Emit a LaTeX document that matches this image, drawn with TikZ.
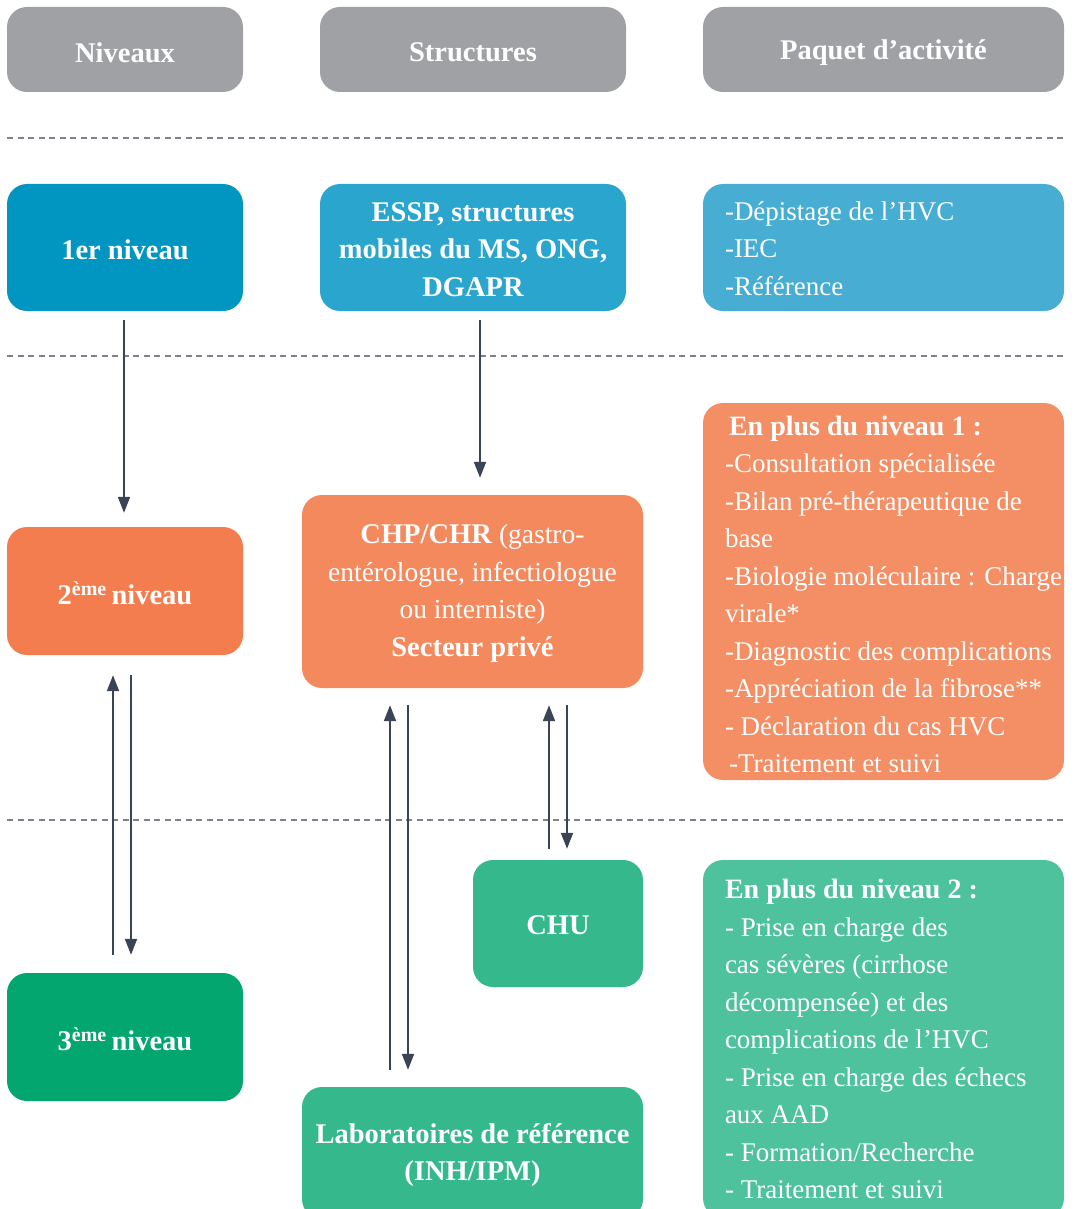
\documentclass[tikz,border=0pt]{standalone}
\usepackage{fontspec}
\setmainfont{Liberation Serif}
\usetikzlibrary{arrows.meta}
\definecolor{hdrgray}{HTML}{A0A1A5}
\definecolor{blueA}{HTML}{0096C1}
\definecolor{blueB}{HTML}{2AA5CD}
\definecolor{blueC}{HTML}{48ADD3}
\definecolor{orangeA}{HTML}{F37D4F}
\definecolor{orangeB}{HTML}{F4895D}
\definecolor{orangeC}{HTML}{F48E64}
\definecolor{greenA}{HTML}{02A66E}
\definecolor{greenB}{HTML}{35B98C}
\definecolor{greenC}{HTML}{4EC29C}
\definecolor{arrowc}{HTML}{3B4456}
\definecolor{dashc}{HTML}{7C8290}
\newcommand\diagfont{\fontsize{27}{37.5}\selectfont}
\newcommand\boldfont{\fontsize{28.5}{37.5}\selectfont\bfseries}
\newcommand\hdfont{\fontsize{28}{37.5}\selectfont\bfseries}
\begin{document}
\begin{tikzpicture}[x=1pt,y=-1pt,
  box/.style={rounded corners=20pt, inner sep=0pt},
  lbl/.style={inner sep=0pt, text=white, font=\boldfont, align=center},
  txt/.style={inner sep=0pt, text=white, font=\diagfont, align=left, anchor=west},
  arr/.style={draw=arrowc, line width=2pt, -{Triangle[width=12pt,length=16pt]}},
  sep/.style={draw=dashc, line width=1.8pt, dash pattern=on 6pt off 4.5pt}]
\useasboundingbox (0,0) rectangle (1076,1209);

% header
\node[box, fill=hdrgray, minimum width=236pt, minimum height=85pt] (h1) at (125,49.5) {};
\node[box, fill=hdrgray, minimum width=306pt, minimum height=85pt] (h2) at (473,49.5) {};
\node[box, fill=hdrgray, minimum width=361pt, minimum height=85pt] (h3) at (883.5,49.5) {};
\node[lbl] (h1t) at ([yshift=-3pt]h1.center) {Niveaux};
\node[lbl] (h2t) at ([yshift=-3pt]h2.center) {Structures};
\node[lbl] (h3t) at ([yshift=-3pt]h3.center) {Paquet d’activité};

% separators
\coordinate (d1a) at (7,138); \coordinate (d1b) at (1064,138);
\coordinate (d2a) at (7,356); \coordinate (d2b) at (1064,356);
\coordinate (d3a) at (7,820); \coordinate (d3b) at (1064,820);
\draw[sep] (d1a) -- (d1b);
\draw[sep] (d2a) -- (d2b);
\draw[sep] (d3a) -- (d3b);

% level 1
\node[box, fill=blueA, minimum width=236pt, minimum height=127pt] (n1) at (125,247.5) {};
\node[lbl] (n1t) at ([yshift=-2pt]n1.center) {1er niveau};
\node[box, fill=blueB, minimum width=306pt, minimum height=127pt] (s1) at (473,247.5) {};
\node[lbl] (s1t) at ([yshift=-2pt]s1.center) {ESSP, structures\\mobiles du MS, ONG,\\DGAPR};
\node[box, fill=blueC, minimum width=361pt, minimum height=127pt] (p1) at (883.5,247.5) {};
\node[txt] (p1t) at ([xshift=22pt,yshift=-1pt]p1.west) {-Dépistage de l’HVC\\-IEC\\-Référence};

% level 2
\node[box, fill=orangeA, minimum width=236pt, minimum height=128pt] (n2) at (125,591) {};
\node[lbl] (n2t) at ([yshift=-2pt]n2.center) {2\textsuperscript{ème}\,niveau};
\node[box, fill=orangeB, minimum width=341pt, minimum height=193pt] (s2) at (472.5,591.5) {};
\node[lbl] (s2t) at ([yshift=-2pt]s2.center) {CHP/CHR \mdseries\fontsize{27.5}{37.5}\selectfont(gastro-\\\mdseries\fontsize{27.5}{37.5}\selectfont entérologue, infectiologue\\\mdseries\fontsize{27.5}{37.5}\selectfont ou interniste)\\Secteur privé};
\node[box, fill=orangeC, minimum width=361pt, minimum height=377pt] (p2) at (883.5,591.5) {};
\node[txt] (p2t) at ([xshift=22pt,yshift=-3pt]p2.west) {\hspace*{4pt}{\hdfont En plus du niveau 1 :}\\-Consultation spécialisée\\-Bilan pré-thérapeutique de\\base\\-Biologie moléculaire : Charge\\virale*\\-Diagnostic des complications\\-Appréciation de la fibrose**\\- Déclaration du cas HVC\\\hspace*{4pt}-Traitement et suivi};

% level 3
\node[box, fill=greenA, minimum width=236pt, minimum height=128pt] (n3) at (125,1037) {};
\node[lbl] (n3t) at ([yshift=-2pt]n3.center) {3\textsuperscript{ème}\,niveau};
\node[box, fill=greenB, minimum width=170pt, minimum height=127pt] (chu) at (558,923.5) {};
\node[lbl] (chut) at ([yshift=-2pt]chu.center) {CHU};
\node[box, fill=greenB, minimum width=341pt, minimum height=132pt] (lab) at (472.5,1153) {};
\node[lbl] (labt) at ([yshift=-2pt]lab.center) {Laboratoires de référence\\(INH/IPM)};
\node[box, fill=greenC, minimum width=361pt, minimum height=358pt] (p3) at (883.5,1039) {};
\node[txt] (p3t) at ([xshift=22pt]p3.west) {{\hdfont En plus du niveau 2 :}\\- Prise en charge des\\cas sévères (cirrhose\\décompensée) et des\\complications de l’HVC\\- Prise en charge des échecs\\aux AAD\\- Formation/Recherche\\- Traitement et suivi};

% arrows
\draw[arr] ([xshift=-1pt,yshift=-9pt]n1.south) -- ([xshift=-1pt,yshift=14pt]n2.north);
\draw[arr] ([xshift=7pt,yshift=-9pt]s1.south) -- ([xshift=7.5pt,yshift=17pt]s2.north);

\draw[arr] ([xshift=-12pt,yshift=18pt]n3.north) -- ([xshift=-12pt,yshift=-20pt]n2.south);
\draw[arr] ([xshift=6pt,yshift=-20pt]n2.south) -- ([xshift=6pt,yshift=18pt]n3.north);

\draw[arr] ([xshift=-82.5pt,yshift=17pt]lab.north) -- ([xshift=-82.5pt,yshift=-17pt]s2.south);
\draw[arr] ([xshift=-64.5pt,yshift=-17pt]s2.south) -- ([xshift=-64.5pt,yshift=17pt]lab.north);

\draw[arr] ([xshift=-9pt,yshift=11pt]chu.north) -- ([xshift=76.5pt,yshift=-17pt]s2.south);
\draw[arr] ([xshift=94.5pt,yshift=-17pt]s2.south) -- ([xshift=9pt,yshift=11pt]chu.north);
\end{tikzpicture}
\end{document}
